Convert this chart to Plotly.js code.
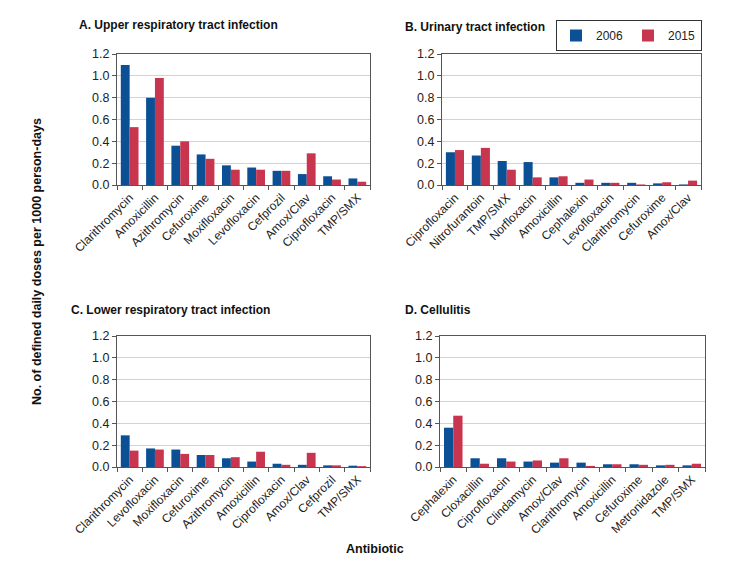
<!DOCTYPE html>
<html>
<head>
<meta charset="utf-8">
<script src="https://cdn.plot.ly/plotly-3.0.1.min.js"></script>
<style>html,body{margin:0;padding:0;background:#fff;}#chart{width:732px;height:575px;}</style>
</head>
<body>
<div id="chart"></div>
<script>
// Panel A: Upper respiratory tract infection
const catsA = ["Clarithromycin","Amoxicillin","Azithromycin","Cefuroxime","Moxifloxacin","Levofloxacin","Cefprozil","Amox/Clav","Ciprofloxacin","TMP/SMX"];
const a2006 = [1.10,0.80,0.36,0.28,0.18,0.16,0.13,0.10,0.08,0.06];
const a2015 = [0.53,0.98,0.40,0.24,0.14,0.14,0.13,0.29,0.05,0.03];
// Panel B: Urinary tract infection
const catsB = ["Ciprofloxacin","Nitrofurantoin","TMP/SMX","Norfloxacin","Amoxicillin","Cephalexin","Levofloxacin","Clarithromycin","Cefuroxime","Amox/Clav"];
const b2006 = [0.30,0.27,0.22,0.21,0.07,0.02,0.02,0.02,0.015,0.005];
const b2015 = [0.32,0.34,0.14,0.07,0.08,0.05,0.02,0.005,0.025,0.04];
// Panel C: Lower respiratory tract infection
const catsC = ["Clarithromycin","Levofloxacin","Moxifloxacin","Cefuroxime","Azithromycin","Amoxicillin","Ciprofloxacin","Amox/Clav","Cefprozil","TMP/SMX"];
const c2006 = [0.29,0.17,0.16,0.11,0.08,0.05,0.03,0.02,0.015,0.012];
const c2015 = [0.15,0.16,0.12,0.11,0.09,0.14,0.02,0.13,0.015,0.008];
// Panel D: Cellulitis
const catsD = ["Cephalexin","Cloxacillin","Ciprofloxacin","Clindamycin","Amox/Clav","Clarithromycin","Amoxicillin","Cefuroxime","Metronidazole","TMP/SMX"];
const d2006 = [0.36,0.08,0.08,0.05,0.04,0.04,0.025,0.025,0.015,0.015];
const d2015 = [0.47,0.03,0.05,0.06,0.08,0.01,0.025,0.02,0.02,0.03];

const yearNames = ["2006","2015"];
const blue = "#0b4f94", red = "#c8354f";

const panels = [
  {cats: catsA, s1: a2006, s2: a2015, xa: "x", ya: "y"},
  {cats: catsB, s1: b2006, s2: b2015, xa: "x2", ya: "y2"},
  {cats: catsC, s1: c2006, s2: c2015, xa: "x3", ya: "y3"},
  {cats: catsD, s1: d2006, s2: d2015, xa: "x4", ya: "y4"}
];
const traces = [];
panels.forEach((p, i) => {
  traces.push({type: "bar", x: p.cats, y: p.s1, name: yearNames[0], xaxis: p.xa, yaxis: p.ya,
    marker: {color: blue}, showlegend: i === 0, legendgroup: "a"});
  traces.push({type: "bar", x: p.cats, y: p.s2, name: yearNames[1], xaxis: p.xa, yaxis: p.ya,
    marker: {color: red}, showlegend: i === 0, legendgroup: "b"});
});

const W = 732, H = 575;
function xd(l, r) { return [l / W, r / W]; }
function yd(t, b) { return [1 - b / H, 1 - t / H]; }
const font = {family: "Liberation Sans, Arial, sans-serif", color: "#222"};
function xaxis(dom, anchor) {
  return {domain: dom, anchor: anchor, type: "category", tickangle: -45, tickson: "boundaries",
    ticks: "outside", ticklen: 4, tickcolor: "#555", showline: true, linecolor: "#555", mirror: true,
    tickfont: {size: 12, color: "#222"}, showgrid: false};
}
function yaxis(dom, anchor) {
  return {domain: dom, anchor: anchor, range: [0, 1.2], dtick: 0.2, tickformat: ".1f",
    ticks: "outside", ticklen: 4, tickcolor: "#555", showline: true, linecolor: "#555", mirror: true,
    gridcolor: "#d3d3d3", gridwidth: 1.2, zeroline: false, tickfont: {size: 12.5, color: "#222"}};
}
const layout = {
  width: W, height: H,
  margin: {l: 0, r: 0, t: 0, b: 0},
  paper_bgcolor: "#fff", plot_bgcolor: "#fff",
  font: font,
  barmode: "group", bargap: 0.3, bargroupgap: 0,
  xaxis: xaxis(xd(117, 370), "y"),
  yaxis: yaxis(yd(54, 185), "x"),
  xaxis2: xaxis(xd(442, 701), "y2"),
  yaxis2: yaxis(yd(54, 185), "x2"),
  xaxis3: xaxis(xd(117, 370), "y3"),
  yaxis3: yaxis(yd(336, 467), "x3"),
  xaxis4: xaxis(xd(440, 705), "y4"),
  yaxis4: yaxis(yd(336, 467), "x4"),
  legend: {orientation: "h", x: 702 / W, y: 1 - 20 / H, xanchor: "right", yanchor: "top",
    bordercolor: "#333", borderwidth: 1, font: {size: 12, color: "#222"},
    itemwidth: 30, tracegroupgap: 0},
  annotations: [
    {text: "<b>A. Upper respiratory tract infection</b>", x: 77 / W, y: 1 - 25 / H, xref: "paper", yref: "paper", xanchor: "left", yanchor: "middle", showarrow: false, font: {size: 12, color: "#111"}},
    {text: "<b>B. Urinary tract infection</b>", x: 403 / W, y: 1 - 27 / H, xref: "paper", yref: "paper", xanchor: "left", yanchor: "middle", showarrow: false, font: {size: 12, color: "#111"}},
    {text: "<b>C. Lower respiratory tract infection</b>", x: 69 / W, y: 1 - 310 / H, xref: "paper", yref: "paper", xanchor: "left", yanchor: "middle", showarrow: false, font: {size: 12, color: "#111"}},
    {text: "<b>D. Cellulitis</b>", x: 403 / W, y: 1 - 310 / H, xref: "paper", yref: "paper", xanchor: "left", yanchor: "middle", showarrow: false, font: {size: 12, color: "#111"}},
    {text: "<b>No. of defined daily doses per 1000 person-days</b>", x: 37 / W, y: 1 - 262 / H, xref: "paper", yref: "paper", xanchor: "center", yanchor: "middle", textangle: -90, showarrow: false, font: {size: 12.5, color: "#111"}},
    {text: "<b>Antibiotic</b>", x: 375 / W, y: 1 - 549 / H, xref: "paper", yref: "paper", xanchor: "center", yanchor: "middle", showarrow: false, font: {size: 12.5, color: "#111"}}
  ]
};
Plotly.newPlot("chart", traces, layout, {displayModeBar: false, staticPlot: true});
</script>
</body>
</html>
